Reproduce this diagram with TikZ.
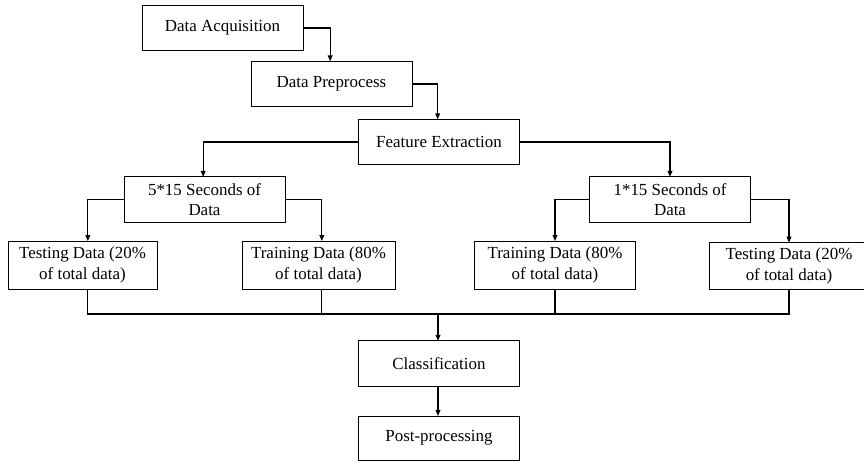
\documentclass[tikz,border=0pt]{standalone}
\usepackage{fontspec}
\setmainfont{Liberation Serif}
\usetikzlibrary{arrows.meta,positioning,calc}

\begin{document}
\begin{tikzpicture}[x=0.75pt, y=-0.75pt,
  stage/.style={draw, line width=0.7pt, inner sep=0pt, outer sep=0pt, minimum width=120.75pt, minimum height=34pt, align=center, font=\fontsize{12.7}{15.5}\selectfont},
  arr/.style={-{Triangle[length=4.5pt, width=3.6pt]}, line width=0.9pt},
  bus/.style={line width=0.9pt}
]
  \useasboundingbox (0,0) rectangle (864,461);
  % upper chain
  \node[stage] (acq)  at (222.5,28)  {Data Acquisition};
  \node[stage] (prep) at (331.5,84)  {Data Preprocess};
  \node[stage] (feat) at (439,142)   {Feature Extraction};
  % two data splits
  \node[stage] (sec5) at (204.5,199.5) {5*15 Seconds of\\Data};
  \node[stage] (sec1) at (670,199.5)   {1*15 Seconds of\\Data};
  \node[stage, minimum width=111.75pt, minimum height=36pt] (test5)  at (82.5,265)  {Testing Data (20\%\\of total data)};
  \node[stage, minimum width=114.75pt, minimum height=36pt] (train5) at (318.5,265) {Training Data (80\%\\of total data)};
  \node[stage, minimum height=36pt] (train1) at (555,265) {Training Data (80\%\\of total data)};
  \node[stage, minimum height=35pt, minimum width=135pt] (test1) at (799,266) {\hspace*{-15pt}Testing Data (20\%\\\hspace*{-15pt}of total data)};
  % lower chain
  \coordinate (join) at (438,314);
  \node[stage] (cls)  at (439,363.5) {Classification};
  \node[stage, minimum height=33pt] (post) at (439,438) {Post-processing};

  \draw[arr] (acq.east) -| ([xshift=-1pt]prep.north);
  \draw[arr] (prep.east) -| ([xshift=-1pt]feat.north);
  \draw[arr] (feat.west) -| ([xshift=-1pt]sec5.north);
  \draw[arr] (feat.east) -| (sec1.north);
  \draw[arr] (sec5.west) -| ([xshift=4pt]test5.north);
  \draw[arr] (sec5.east) -| ([xshift=2.5pt]train5.north);
  \draw[arr] (sec1.west) -| (train1.north);
  \draw[arr] (sec1.east) -| ([xshift=-7.5pt]test1.north);

  \draw[bus] ([xshift=4pt]test5.south) |- (join) -| ([xshift=-7.5pt]test1.south);
  \draw[bus] ([xshift=2.5pt]train5.south) -- ([xshift=2.5pt]train5.south |- join);
  \draw[bus] (train1.south) -- (train1.south |- join);
  \draw[arr] (join) -- (join |- cls.north);
  \draw[arr] (join |- cls.south) -- (join |- post.north);
\end{tikzpicture}
\end{document}
